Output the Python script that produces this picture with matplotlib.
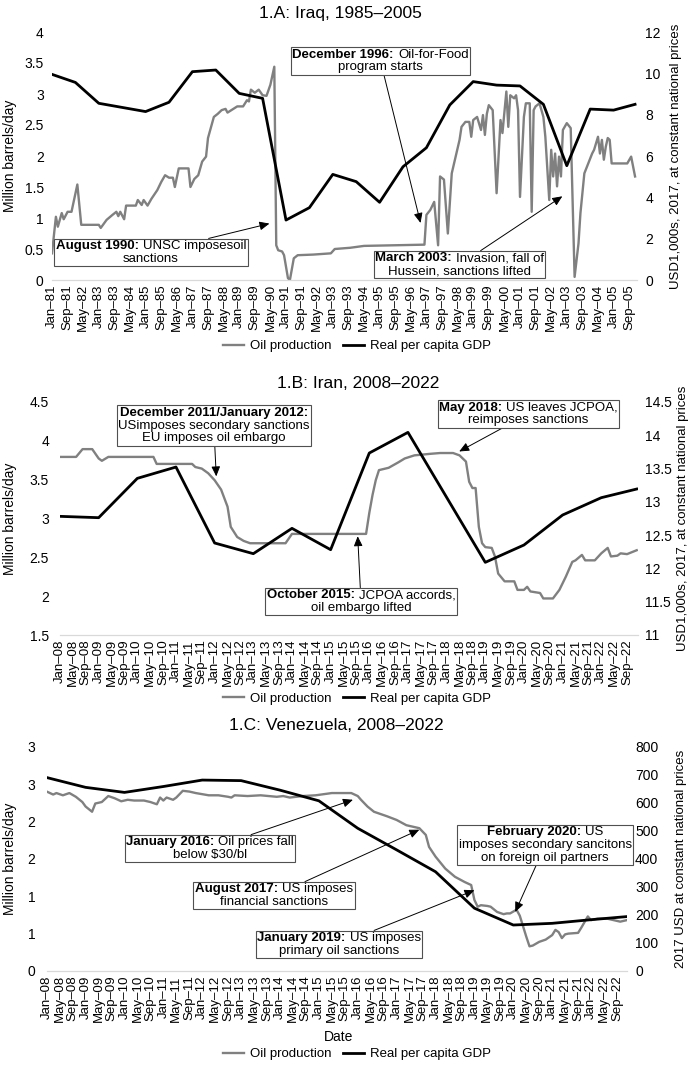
import matplotlib
matplotlib.use('Agg')
import matplotlib.pyplot as plt
from matplotlib.offsetbox import TextArea, HPacker, VPacker, AnnotationBbox

plt.rcParams['font.family'] = ['Liberation Sans', 'DejaVu Sans']

W, H = 693, 1066
OIL_COLOR = '#808080'
GDP_COLOR = 'black'
NOTE_SIZE = 9.5

# ---- 1.A Iraq (oil in million barrels/day, GDP in USD 1,000s) ----
iraq_oil_dates = [
    '1981-01', '1981-03', '1981-04', '1981-06', '1981-07', '1981-09', '1981-11', '1982-02',
    '1982-04', '1983-01', '1983-02', '1983-05', '1983-08', '1983-10', '1983-11', '1983-12',
    '1984-02', '1984-03', '1984-08', '1984-09', '1984-11', '1984-12', '1985-02', '1985-04',
    '1985-07', '1985-09', '1985-11', '1986-01', '1986-03', '1986-04', '1986-06', '1986-11',
    '1986-12', '1987-02', '1987-04', '1987-06', '1987-08', '1987-09', '1987-12', '1988-02',
    '1988-04', '1988-06', '1988-07', '1988-09', '1988-12', '1989-03', '1989-05', '1989-06',
    '1989-07', '1989-09', '1989-11', '1990-01', '1990-03', '1990-05', '1990-07', '1990-08',
    '1990-09', '1990-11', '1990-12', '1991-02', '1991-03', '1991-05', '1991-07', '1992-03',
    '1992-12', '1993-02', '1993-10', '1994-05', '1996-12', '1997-01', '1997-03', '1997-05',
    '1997-07', '1997-08', '1997-10', '1997-12', '1998-02', '1998-04', '1998-06', '1998-07',
    '1998-09', '1998-11', '1998-12', '1999-01', '1999-03', '1999-05', '1999-06', '1999-07',
    '1999-08', '1999-09', '1999-11', '2000-01', '2000-03', '2000-04', '2000-06', '2000-07',
    '2000-08', '2000-10', '2000-11', '2000-12', '2001-01', '2001-03', '2001-04', '2001-06',
    '2001-07', '2001-08', '2001-09', '2001-11', '2002-01', '2002-02', '2002-04', '2002-05',
    '2002-06', '2002-07', '2002-08', '2002-09', '2002-10', '2002-11', '2003-01', '2003-03',
    '2003-05', '2003-07', '2003-08', '2003-10', '2003-12', '2004-02', '2004-03', '2004-05',
    '2004-06', '2004-07', '2004-08', '2004-09', '2004-10', '2004-11', '2004-12', '2005-08',
    '2005-10', '2005-11', '2005-12']
iraq_oil = [
    0.43, 1.02, 0.86, 1.08, 0.98, 1.10, 1.10, 1.54,
    0.89, 0.89, 0.84, 0.97, 1.05, 1.10, 1.03, 1.10,
    0.98, 1.20, 1.20, 1.29, 1.21, 1.29, 1.20, 1.31,
    1.45, 1.58, 1.69, 1.65, 1.65, 1.50, 1.80, 1.80,
    1.50, 1.63, 1.69, 1.91, 1.99, 2.29, 2.63, 2.68,
    2.74, 2.76, 2.70, 2.74, 2.80, 2.80, 2.90, 2.88,
    3.07, 3.02, 3.07, 2.98, 2.97, 3.15, 3.44, 0.56,
    0.48, 0.46, 0.40, 0.03, 0.00, 0.35, 0.40, 0.41,
    0.43, 0.50, 0.52, 0.55, 0.57, 1.05, 1.13, 1.26,
    0.56, 1.67, 1.62, 0.75, 1.72, 1.99, 2.26, 2.47,
    2.55, 2.55, 2.31, 2.58, 2.63, 2.42, 2.66, 2.34,
    2.68, 2.82, 2.74, 1.40, 2.58, 2.37, 3.04, 2.47,
    2.98, 2.93, 2.98, 2.74, 1.34, 2.63, 2.85, 2.85,
    1.10, 2.74, 2.80, 2.85, 2.63, 2.31, 1.29, 2.10,
    1.67, 2.04, 1.51, 1.99, 1.67, 2.42, 2.53, 2.45,
    0.05, 0.59, 1.08, 1.72, 1.88, 2.04, 2.10, 2.31,
    2.04, 2.26, 1.94, 2.15, 2.29, 2.26, 1.88, 1.88,
    1.99, 1.83, 1.67]
iraq_gdp_dates = [
    '1981-01', '1982-01', '1983-01', '1984-01', '1985-01', '1986-01', '1987-01', '1988-01',
    '1989-01', '1990-01', '1991-01', '1992-01', '1993-01', '1994-01', '1995-01', '1996-01',
    '1997-01', '1998-01', '1999-01', '2000-01', '2001-01', '2002-01', '2003-01', '2004-01',
    '2005-01', '2005-12']
iraq_gdp = [
    9.95, 9.56, 8.55, 8.35, 8.15, 8.60, 10.08, 10.16,
    9.03, 8.79, 2.90, 3.50, 5.11, 4.76, 3.76, 5.48,
    6.40, 8.47, 9.60, 9.43, 9.39, 8.50, 5.53, 8.27,
    8.22, 8.50]

# ---- 1.B Iran ----
iran_oil_dates = [
    '2008-01', '2008-06', '2008-08', '2008-11', '2009-01', '2009-02', '2009-04', '2010-06',
    '2010-07', '2011-06', '2011-07', '2011-09', '2011-11', '2012-01', '2012-03', '2012-05',
    '2012-06', '2012-08', '2012-10', '2012-12', '2013-11', '2014-01', '2015-12', '2016-01',
    '2016-02', '2016-03', '2016-04', '2016-07', '2016-10', '2016-12', '2017-03', '2017-08',
    '2017-11', '2018-03', '2018-05', '2018-07', '2018-08', '2018-09', '2018-10', '2018-11',
    '2018-12', '2019-01', '2019-03', '2019-04', '2019-05', '2019-07', '2019-10', '2019-11',
    '2020-01', '2020-02', '2020-03', '2020-06', '2020-07', '2020-10', '2020-12', '2021-02',
    '2021-04', '2021-05', '2021-07', '2021-08', '2021-11', '2022-01', '2022-03', '2022-04',
    '2022-06', '2022-07', '2022-09', '2022-12']
iran_oil = [
    3.79, 3.79, 3.89, 3.89, 3.77, 3.74, 3.79, 3.79,
    3.70, 3.70, 3.66, 3.64, 3.58, 3.49, 3.37, 3.15,
    2.89, 2.76, 2.71, 2.68, 2.68, 2.80, 2.80, 3.07,
    3.30, 3.49, 3.62, 3.65, 3.72, 3.77, 3.81, 3.83,
    3.84, 3.84, 3.81, 3.73, 3.47, 3.39, 3.39, 2.89,
    2.68, 2.63, 2.62, 2.51, 2.29, 2.19, 2.19, 2.08,
    2.08, 2.12, 2.06, 2.04, 1.97, 1.97, 2.08, 2.25,
    2.44, 2.46, 2.53, 2.46, 2.46, 2.55, 2.62, 2.51,
    2.52, 2.55, 2.54, 2.59]
iran_gdp_dates = [
    '2008-01', '2009-01', '2010-01', '2011-01', '2012-01', '2013-01', '2014-01', '2015-01',
    '2016-01', '2017-01', '2019-01', '2020-01', '2021-01', '2022-01', '2022-12']
iran_gdp = [
    12.78, 12.76, 13.35, 13.52, 12.38, 12.22, 12.60, 12.28,
    13.73, 14.04, 12.09, 12.35, 12.80, 13.06, 13.19]

# ---- 1.C Venezuela (GDP in 2017 USD) ----
ven_oil_dates = [
    '2008-01', '2008-03', '2008-04', '2008-06', '2008-08', '2008-10', '2008-12', '2009-01',
    '2009-03', '2009-04', '2009-06', '2009-08', '2009-10', '2009-12', '2010-02', '2010-04',
    '2010-07', '2010-09', '2010-11', '2010-12', '2011-01', '2011-02', '2011-04', '2011-05',
    '2011-07', '2011-09', '2011-11', '2012-03', '2012-06', '2012-09', '2012-10', '2012-11',
    '2013-03', '2013-07', '2013-12', '2014-02', '2014-04', '2014-08', '2014-12', '2015-05',
    '2015-11', '2016-01', '2016-02', '2016-04', '2016-06', '2016-10', '2017-01', '2017-04',
    '2017-07', '2017-08', '2017-10', '2017-11', '2018-01', '2018-04', '2018-07', '2018-10',
    '2018-12', '2019-01', '2019-02', '2019-03', '2019-05', '2019-06', '2019-08', '2019-10',
    '2019-11', '2019-12', '2020-02', '2020-03', '2020-05', '2020-06', '2020-07', '2020-09',
    '2020-11', '2021-01', '2021-02', '2021-03', '2021-04', '2021-05', '2021-06', '2021-09',
    '2021-10', '2021-12', '2022-01', '2022-03', '2022-06', '2022-08', '2022-10', '2022-12']
ven_oil = [
    2.40, 2.36, 2.38, 2.35, 2.38, 2.33, 2.26, 2.20,
    2.13, 2.24, 2.26, 2.34, 2.31, 2.27, 2.29, 2.28,
    2.28, 2.26, 2.23, 2.32, 2.28, 2.32, 2.29, 2.32,
    2.41, 2.40, 2.38, 2.35, 2.35, 2.33, 2.32, 2.35,
    2.34, 2.35, 2.33, 2.34, 2.32, 2.34, 2.35, 2.38,
    2.38, 2.34, 2.29, 2.20, 2.13, 2.07, 2.02, 1.95,
    1.92, 1.91, 1.82, 1.66, 1.53, 1.37, 1.26, 1.19,
    1.15, 0.95, 0.86, 0.88, 0.87, 0.86, 0.79, 0.76,
    0.77, 0.77, 0.82, 0.74, 0.46, 0.33, 0.34, 0.39,
    0.42, 0.48, 0.55, 0.52, 0.44, 0.49, 0.50, 0.51,
    0.58, 0.73, 0.68, 0.70, 0.70, 0.68, 0.66, 0.68]
ven_gdp_dates = [
    '2008-01', '2009-01', '2010-01', '2011-01', '2012-01', '2013-01', '2014-01', '2015-01',
    '2016-01', '2017-01', '2018-01', '2019-01', '2020-01', '2021-01', '2022-01', '2022-12']
ven_gdp = [
    690, 655, 637, 658, 681, 679, 645, 607,
    509, 432, 354, 224, 164, 170, 183, 194]

MONTHS = ['Jan', 'Feb', 'Mar', 'Apr', 'May', 'Jun', 'Jul', 'Aug', 'Sep', 'Oct', 'Nov', 'Dec']


# months elapsed since the start month, used as the x position
def month_index(dates, start):
    sy, sm = map(int, start.split('-'))
    out = []
    for d in dates:
        y, m = map(int, d.split('-'))
        out.append((y - sy) * 12 + (m - sm))
    return out


# category-style labels like "Jan–81", every `step` months
def month_ticks(start, last, step):
    sy, sm = map(int, start.split('-'))
    pos, labels = [], []
    for i in range(0, last + 1, step):
        k = sm - 1 + i
        pos.append(i)
        labels.append('%s\u2013%02d' % (MONTHS[k % 12], (sy + k // 12) % 100))
    return pos, labels


fig = plt.figure(figsize=(W / 100, H / 100), dpi=100)


def px_axes(left, top, right, bottom):
    return fig.add_axes([left / W, 1 - bottom / H, (right - left) / W, (bottom - top) / H])


def style_axes(ax, ax2, lpad, rpad):
    for a in (ax, ax2):
        for s in a.spines.values():
            s.set_visible(False)
        a.tick_params(length=0, labelsize=10)
    ax.spines['bottom'].set_visible(True)
    ax.spines['bottom'].set_color('#d9d9d9')
    ax.spines['bottom'].set_linewidth(0.9)
    ax.tick_params(axis='y', pad=lpad)
    ax.tick_params(axis='x', pad=3, labelsize=9.5)
    ax2.tick_params(axis='y', pad=rpad)


def draw_panel(rect, start, last_tick, step, xmax, oil_d, oil_v, gdp_d, gdp_v,
               yticks, ylabels, yticks2, ylabels2, ylabel2, lpad, rpad, lab_x, lab2_x):
    ax = px_axes(*rect)
    ax2 = ax.twinx()
    line_oil, = ax.plot(month_index(oil_d, start), oil_v, color=OIL_COLOR, lw=1.7)
    line_gdp, = ax2.plot(month_index(gdp_d, start), gdp_v, color=GDP_COLOR, lw=2.0)
    ax.set_xlim(0, xmax)
    ax.set_ylim(yticks[0], yticks[-1])
    ax2.set_ylim(yticks2[0], yticks2[-1])
    ax.set_yticks(yticks, ylabels)
    ax2.set_yticks(yticks2, ylabels2)
    pos, labels = month_ticks(start, last_tick, step)
    ax.set_xticks(pos, labels, rotation=90)
    style_axes(ax, ax2, lpad, rpad)
    width = rect[2] - rect[0]
    ax.set_ylabel('Million barrels/day', fontsize=10, va='center')
    ax.yaxis.set_label_coords((lab_x - rect[0]) / width, 0.5)
    ax2.set_ylabel(ylabel2, fontsize=9.5, rotation=90, va='center')
    ax2.yaxis.set_label_coords((lab2_x - rect[0]) / width, 0.5)
    return ax, ax2, line_oil, line_gdp


def add_legend(lines, cy):
    fig.legend(lines, ['Oil production', 'Real per capita GDP'], loc='center',
               bbox_to_anchor=(357 / W, 1 - cy / H), ncol=2, frameon=False, fontsize=9.5,
               handlelength=1.6, handletextpad=0.5, columnspacing=0.8)


# note box with a bold lead-in, pointing at a spot on the oil line
def note(ax, bold, rest, more, xy, center):
    first = [TextArea(bold, textprops=dict(weight='bold', fontsize=NOTE_SIZE))]
    if rest:
        first.append(TextArea(rest, textprops=dict(fontsize=NOTE_SIZE)))
    rows = [HPacker(children=first, sep=3, pad=0)]
    for line in more:
        rows.append(TextArea(line, textprops=dict(fontsize=NOTE_SIZE)))
    box = VPacker(children=rows, align='center', sep=0.5, pad=0)
    ab = AnnotationBbox(box, xy, xycoords=ax.transData,
                        xybox=(center[0], H - center[1]), boxcoords='figure pixels',
                        box_alignment=(0.5, 0.5), pad=0.3, fontsize=NOTE_SIZE,
                        bboxprops=dict(boxstyle='square,pad=0.1', fc='white',
                                       ec='#505050', lw=0.8),
                        arrowprops=dict(arrowstyle='-|>,head_length=0.45,head_width=0.2',
                                        color='black', lw=0.7, shrinkA=0, shrinkB=0))
    fig.add_artist(ab)


# ---- panel A ----
axA, axA2, lo, lg = draw_panel(
    (52, 32, 637, 280), '1981-01', 296, 8, 300, iraq_oil_dates, iraq_oil,
    iraq_gdp_dates, iraq_gdp,
    [0, 0.5, 1, 1.5, 2, 2.5, 3, 3.5, 4], ['0', '0.5', '1', '1.5', '2', '2.5', '3', '3.5', '4'],
    [0, 2, 4, 6, 8, 10, 12], ['0', '2', '4', '6', '8', '10', '12'],
    'USD1,000s, 2017, at constant national prices', 6, 6, 10, 676)
fig.text(340 / W, 1 - 13.5 / H, '1.A: Iraq, 1985\u20132005', ha='center', va='center', fontsize=12.5)
add_legend([lo, lg], 346)
iraq_x = lambda d: month_index([d], '1981-01')[0]
note(axA, 'December 1996:', 'Oil-for-Food', ['program starts'], (iraq_x('1996-10'), 0.92), (380.5, 61))
note(axA, 'August 1990:', 'UNSC imposesoil', ['sanctions'], (iraq_x('1990-05') - 0.5, 0.91), (151, 252.5))
note(axA, 'March 2003:', 'Invasion, fall of', ['Hussein, sanctions lifted'], (iraq_x('2002-11') - 0.3, 1.35), (459.5, 264.7))

# ---- panel B ----
axB, axB2, lo, lg = draw_panel(
    (60, 401.7, 638, 635), '2008-01', 176, 4, 179.4, iran_oil_dates, iran_oil,
    iran_gdp_dates, iran_gdp,
    [1.5, 2, 2.5, 3, 3.5, 4, 4.5], ['1.5', '2', '2.5', '3', '3.5', '4', '4.5'],
    [11, 11.5, 12, 12.5, 13, 13.5, 14, 14.5], ['11', '11.5', '12', '12.5', '13', '13.5', '14', '14.5'],
    'USD1,000s, 2017, at constant national prices', 8, 5, 10, 683)
fig.text(358 / W, 1 - 383 / H, '1.B: Iran, 2008\u20132022', ha='center', va='center', fontsize=12.5)
add_legend([lo, lg], 699)
iran_x = lambda d: month_index([d], '2008-01')[0]
note(axB, 'December 2011/January 2012:', None, ['USimposes secondary sanctions', 'EU imposes oil embargo'],
     (iran_x('2012-01') + 0.5, 3.54), (213.8, 425.5))
note(axB, 'October 2015:', 'JCPOA accords,', ['oil embargo lifted'], (iran_x('2015-10') - 0.6, 2.77), (361, 601.7))
note(axB, 'May 2018:', 'US leaves JCPOA,', ['reimposes sanctions'], (iran_x('2018-05') - 0.1, 3.86), (528.3, 414))

# ---- panel C ----
axC, axC2, lo, lg = draw_panel(
    (46.7, 746.7, 626.7, 971), '2008-01', 176, 4, 179, ven_oil_dates, ven_oil,
    ven_gdp_dates, ven_gdp,
    [0, 0.5, 1, 1.5, 2, 2.5, 3], ['0', '1', '1', '2', '2', '3', '3'],
    [0, 100, 200, 300, 400, 500, 600, 700, 800], ['0', '100', '200', '300', '400', '500', '600', '700', '800'],
    '2017 USD at constant national prices', 8, 6, 10, 681)
fig.text(336 / W, 1 - 725 / H, '1.C: Venezuela, 2008\u20132022', ha='center', va='center', fontsize=12.5)
fig.text(339 / W, 1 - 1037 / H, 'Date', ha='center', va='center', fontsize=10)
add_legend([lo, lg], 1054)
ven_x = lambda d: month_index([d], '2008-01')[0]
note(axC, 'January 2016:', 'Oil prices fall', ['below $30/bl'], (ven_x('2015-12') - 0.5, 2.29), (210, 848.7))
note(axC, 'August 2017:', 'US imposes', ['financial sanctions'], (ven_x('2017-08'), 1.89), (274, 895.7))
note(axC, 'January 2019:', 'US imposes', ['primary oil sanctions'], (ven_x('2019-01'), 1.08), (339, 944.5))
note(axC, 'February 2020:', 'US', ['imposes secondary sancitons', 'on foreign oil partners'],
     (ven_x('2020-02') - 0.4, 0.79), (545.3, 845))

fig.savefig('out.png', dpi=100)
